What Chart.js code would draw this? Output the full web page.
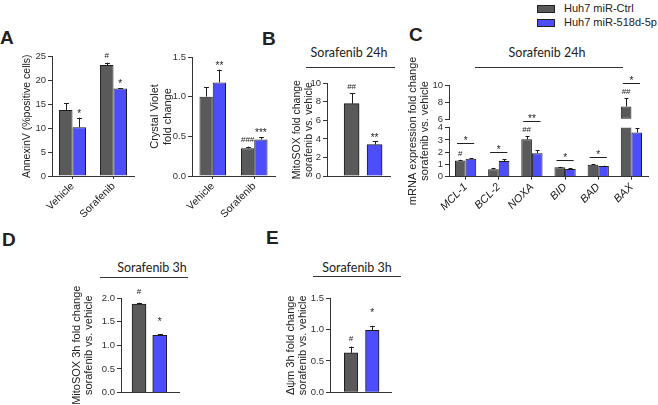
<!DOCTYPE html>
<html>
<head>
<meta charset="utf-8">
<script src="https://cdn.jsdelivr.net/npm/chart.js@4.4.0/dist/chart.umd.min.js"></script>
<style>
  body { margin: 0; background: #fff; }
  #page { position: relative; width: 658px; height: 405px; overflow: hidden;
          font-family: "Liberation Sans", Arial, sans-serif; color: #222; }
  #page canvas { position: absolute; left: 0; top: 0; }
  .letter { position: absolute; font-weight: bold; font-size: 19px; line-height: 19px; }
  .head { position: absolute; font-family: Lato, "Open Sans", sans-serif; font-size: 12.5px;
          line-height: 16px; text-align: center; width: 120px; }
  .rule { position: absolute; height: 0; border-top: 1px solid #333; }
  .key { position: absolute; left: 537px; font-size: 11px; line-height: 12px; white-space: nowrap; }
  .key i { display: inline-block; width: 16px; height: 6px; border: 1px solid #222;
           margin-right: 9px; vertical-align: -1px; }
</style>
</head>
<body>
<div id="page">
  <div class="key" style="top:2px"><i style="background:#5a5a5a"></i>Huh7 miR-Ctrl</div>
  <div class="key" style="top:16px"><i style="background:#4d4dfb"></i>Huh7 miR-518d-5p</div>

  <div class="letter" style="left:0px;top:28px">A</div>
  <div class="letter" style="left:262px;top:29px">B</div>
  <div class="letter" style="left:409px;top:25px">C</div>
  <div class="letter" style="left:2px;top:230px">D</div>
  <div class="letter" style="left:266px;top:228px">E</div>

  <div class="head" style="left:289px;top:45px">Sorafenib 24h</div>
  <div class="rule" style="left:306px;top:67px;width:89px"></div>
  <div class="head" style="left:487px;top:45px">Sorafenib 24h</div>
  <div class="rule" style="left:475px;top:67px;width:148px"></div>
  <div class="head" style="left:92px;top:260px">Sorafenib 3h</div>
  <div class="rule" style="left:100px;top:277px;width:88px"></div>
  <div class="head" style="left:297px;top:260px">Sorafenib 3h</div>
  <div class="rule" style="left:313px;top:276px;width:88px"></div>

  <canvas id="annexin" width="658" height="405"></canvas>
  <canvas id="violet" width="658" height="405"></canvas>
  <canvas id="mitosox24" width="658" height="405"></canvas>
  <canvas id="mrna" width="658" height="405"></canvas>
  <canvas id="mitosox3" width="658" height="405"></canvas>
  <canvas id="psi" width="658" height="405"></canvas>
</div>
<script>
// panel A
const groups = ['Vehicle', 'Sorafenib'];
const annexinCtrl = [13.8, 23.2];
const annexinCtrlErr = [1.4, 0.5];
const annexinMir = [10.2, 18.3];
const annexinMirErr = [2.0, 0.1];
const annexinCtrlSig = ['', '#'];
const annexinMirSig = ['*', '*'];

const violetCtrl = [1.0, 0.35];
const violetCtrlErr = [0.12, 0.02];
const violetMir = [1.18, 0.46];
const violetMirErr = [0.16, 0.03];
const violetCtrlSig = ['', '###'];
const violetMirSig = ['**', '***'];

// panels B, D, E: miR-Ctrl then miR-518d-5p
const lines = ['Huh7 miR-Ctrl', 'Huh7 miR-518d-5p'];
const mitoSox24 = [7.8, 3.4];
const mitoSox24Err = [1.15, 0.35];
const mitoSox24Sig = ['##', '**'];

const mitoSox3 = [1.87, 1.21];
const mitoSox3Err = [0.03, 0.03];
const mitoSox3Sig = ['#', '*'];

const deltaPsi = [0.63, 0.99];
const deltaPsiErr = [0.1, 0.07];
const deltaPsiSig = ['#', '*'];

// panel C
const genes = ['MCL-1', 'BCL-2', 'NOXA', 'BID', 'BAD', 'BAX'];
const mrnaCtrl = [1.33, 0.6, 3.05, 0.77, 0.98, 7.5];
const mrnaCtrlErr = [0.05, 0.12, 0.25, 0.03, 0.04, 0.95];
const mrnaMir = [1.47, 1.28, 1.92, 0.63, 0.88, 3.6];
const mrnaMirErr = [0.03, 0.15, 0.25, 0.04, 0.03, 0.35];
const mrnaCtrlSig = ['#', '', '##', '', '', '##'];
const mrnaPairSig = ['*', '*', '**', '*', '*', '*'];

const W = 658, H = 405;
const ctrlColor = '#5a5a5a';
const mirColor = '#4d4dfb';
const edge = '#1c1c1c';
const ink = '#333';

Chart.defaults.font.family = "'Liberation Sans', Arial, sans-serif";
Chart.defaults.color = ink;

// clip every dataset to its own y axis band and draw the upper whiskers
const errorBars = {
  id: 'errorBars',
  beforeDatasetDraw(chart, args) {
    const ys = chart.scales[args.meta.yAxisID];
    const a = chart.chartArea;
    chart.ctx.save();
    chart.ctx.beginPath();
    chart.ctx.rect(a.left, ys.top - 1, a.right - a.left, ys.bottom - ys.top + 1);
    chart.ctx.clip();
  },
  afterDatasetDraw(chart, args) {
    const ctx = chart.ctx;
    const ds = chart.data.datasets[args.index];
    const meta = args.meta;
    const ys = chart.scales[meta.yAxisID];
    if (ds.errors) {
      ctx.strokeStyle = edge;
      ctx.lineWidth = 1;
      meta.data.forEach((bar, i) => {
        const v = meta.controller.getParsed(i).y;
        const top = ys.getPixelForValue(v + ds.errors[i]);
        const x = Math.round(bar.x) + 0.5;
        const w = Math.max(2, bar.width * 0.18);
        ctx.beginPath();
        ctx.moveTo(x, bar.y);
        ctx.lineTo(x, top);
        ctx.moveTo(x - w, Math.round(top) + 0.5);
        ctx.lineTo(x + w, Math.round(top) + 0.5);
        ctx.stroke();
      });
    }
    ctx.restore();
  }
};

// # and * signs above bars, plus the bracket lines of panel C
const sigMarks = {
  id: 'sigMarks',
  afterDatasetsDraw(chart, args, o) {
    const ctx = chart.ctx;
    const axes = o.axes || ['y'];
    const pix = v => {
      for (const id of axes) {
        const s = chart.scales[id];
        if (v <= s.max || id === axes[axes.length - 1]) return s.getPixelForValue(v);
      }
    };
    const font = m => (m[0] === '#' ? "8px 'Liberation Sans'" : "10px 'Liberation Sans'");
    ctx.save();
    ctx.fillStyle = '#222';
    ctx.strokeStyle = '#222';
    ctx.lineWidth = 1;
    ctx.textAlign = 'center';
    ctx.textBaseline = 'alphabetic';
    const tops = [];
    chart.data.datasets.forEach((ds, d) => {
      if (!ds.errors || (ds.yAxisID && ds.yAxisID !== axes[0])) return;
      const meta = chart.getDatasetMeta(d);
      tops[d] = meta.data.map((bar, i) => ({ bar, top: pix(meta.controller.getParsed(i).y + ds.errors[i]) }));
      if (!ds.marks) return;
      tops[d].forEach((t, i) => {
        const m = ds.marks[i];
        if (!m) return;
        ctx.font = font(m);
        ctx.fillText(m, t.bar.x, t.top - (m[0] === '#' ? o.hashGap : o.starGap));
      });
    });
    if (o.pairs) {
      const hashes = chart.data.datasets[0].marks;
      o.pairs.forEach((m, i) => {
        const a = tops[0][i], b = tops[1][i];
        const y = Math.round(Math.min(a.top, b.top) - (hashes[i] ? o.hashLift : o.lift)) + 0.5;
        const x0 = a.bar.x - a.bar.width / 2 + 2;
        const x1 = b.bar.x + b.bar.width / 2 - 2;
        ctx.beginPath();
        ctx.moveTo(x0, y);
        ctx.lineTo(x1, y);
        ctx.stroke();
        ctx.font = font(m);
        ctx.fillText(m, (x0 + x1) / 2, y + 0.5);
      });
    }
    ctx.restore();
  }
};

function yAxis(o) {
  return {
    type: 'linear',
    position: 'left',
    min: o.min,
    max: o.max,
    stack: o.stack,
    stackWeight: o.weight,
    afterBuildTicks: s => {
      const t = [];
      for (let v = o.min; v <= o.max + 1e-9; v += o.step) t.push({ value: +v.toFixed(3) });
      s.ticks = t;
    },
    ticks: {
      autoSkip: false, padding: 2, font: { size: 9.5 }, color: ink,
      callback: v => (o.fixed ? v.toFixed(o.fixed) : v)
    },
    grid: { drawOnChartArea: false, tickLength: 4, color: ink },
    border: { color: ink },
    title: o.title
      ? { display: true, text: o.title, color: '#222', padding: 0,
          font: { size: o.titleSize || 11, lineHeight: o.lineHeight } }
      : { display: false },
    afterFit: s => { s.width = o.width; }
  };
}

function catAxis(height, italic) {
  return {
    type: 'category',
    offset: true,
    grid: { drawOnChartArea: false, offset: false, tickLength: 3, color: ink },
    border: { color: ink },
    ticks: {
      minRotation: 45, maxRotation: 45, padding: 1, color: '#222',
      font: { size: italic ? 11 : 10.5, style: italic ? 'italic' : 'normal' }
    },
    afterFit: s => { s.height = height; }
  };
}

function pairAxis(min, max) {
  return {
    type: 'linear', min, max, offset: false,
    ticks: { display: false },
    grid: { display: false, offset: false },
    border: { color: ink },
    afterFit: s => { s.height = 4; }
  };
}

function options(padding, scales, marks) {
  return {
    responsive: false,
    animation: false,
    devicePixelRatio: 1,
    layout: { padding },
    scales,
    plugins: { legend: { display: false }, tooltip: { enabled: false }, sigMarks: marks }
  };
}

function groupBars(values, errors, marks, color, pct) {
  return { data: values, errors, marks, backgroundColor: color, borderColor: edge,
           borderWidth: 1, categoryPercentage: pct, barPercentage: 1 };
}

function pairBars(values, errors, marks, thickness) {
  return { data: values.map((v, i) => ({ x: i + 1, y: v })), errors, marks,
           backgroundColor: [ctrlColor, mirColor], borderColor: edge, borderWidth: 1,
           barThickness: thickness };
}

// A: AnnexinV
new Chart(document.getElementById('annexin'), {
  type: 'bar',
  data: { labels: groups, datasets: [
    groupBars(annexinCtrl, annexinCtrlErr, annexinCtrlSig, ctrlColor, 0.66),
    groupBars(annexinMir, annexinMirErr, annexinMirSig, mirColor, 0.66)
  ] },
  options: options({ left: 21, top: 56.5, right: W - 134, bottom: 0 }, {
    x: catAxis(H - 176),
    y: yAxis({ min: 0, max: 25, step: 5, width: 31, title: 'AnnexinV (%positive cells)',
               titleSize: 10.5, lineHeight: '12.6px' })
  }, { hashGap: 5, starGap: 1 }),
  plugins: [errorBars, sigMarks]
});

// A: Crystal Violet
new Chart(document.getElementById('violet'), {
  type: 'bar',
  data: { labels: groups, datasets: [
    groupBars(violetCtrl, violetCtrlErr, violetCtrlSig, ctrlColor, 0.64),
    groupBars(violetMir, violetMirErr, violetMirSig, mirColor, 0.64)
  ] },
  options: options({ left: 148.5, top: 57, right: W - 275, bottom: 0 }, {
    x: catAxis(H - 176),
    y: yAxis({ min: 0, max: 1.5, step: 0.5, fixed: 1, width: 43.5,
               title: ['Crystal Violet', 'fold change'], lineHeight: '13px' })
  }, { hashGap: 5, starGap: 1 }),
  plugins: [errorBars, sigMarks]
});

// B: MitoSOX 24h
new Chart(document.getElementById('mitosox24'), {
  type: 'bar',
  data: { labels: lines, datasets: [pairBars(mitoSox24, mitoSox24Err, mitoSox24Sig, 15)] },
  options: options({ left: 291.5, top: 83.3, right: W - 390, bottom: H - 176 - 4 }, {
    x: pairAxis(-0.07, 2.67),
    y: yAxis({ min: 0, max: 10, step: 2, width: 35.5,
               title: ['MitoSOX fold change', 'sorafenib vs. vehicle'], titleSize: 10.5, lineHeight: '11.5px' })
  }, { hashGap: 4, starGap: 0 }),
  plugins: [errorBars, sigMarks]
});

// C: mRNA expression, broken y axis (0-4 below, 6-10 above)
new Chart(document.getElementById('mrna'), {
  type: 'bar',
  data: { labels: genes, datasets: [
    { ...groupBars(mrnaCtrl, mrnaCtrlErr, mrnaCtrlSig, ctrlColor, 0.64), yAxisID: 'yLow', stack: 'ctrl' },
    { ...groupBars(mrnaMir, mrnaMirErr, null, mirColor, 0.64), yAxisID: 'yLow', stack: 'mir' },
    { ...groupBars(mrnaCtrl, mrnaCtrlErr, null, ctrlColor, 0.64), yAxisID: 'yHigh', stack: 'ctrl',
      base: 6, borderSkipped: false },
    { ...groupBars(mrnaMir, mrnaMirErr, null, mirColor, 0.64), yAxisID: 'yHigh', stack: 'mir',
      base: 6, borderSkipped: false }
  ] },
  options: options({ left: 407, top: 85, right: W - 648, bottom: 0 }, {
    x: catAxis(H - 176.7, true),
    yTitle: {
      type: 'linear', position: 'left', weight: 10,
      ticks: { display: false }, grid: { display: false }, border: { display: false },
      title: { display: true, text: ['mRNA expression fold change', 'sorafenib vs. vehicle'],
               color: '#222', padding: 0, font: { size: 11, lineHeight: '12px' } },
      afterFit: s => { s.width = 20; }
    },
    yLow: yAxis({ min: 0, max: 4, step: 1, width: 22, stack: 'c', weight: 49 }),
    yGap: {
      type: 'linear', position: 'left', stack: 'c', stackWeight: 8.4,
      ticks: { display: false }, grid: { display: false }, border: { display: false },
      afterFit: s => { s.width = 22; }
    },
    yHigh: yAxis({ min: 6, max: 10, step: 2, width: 22, stack: 'c', weight: 34.3 })
  }, { axes: ['yLow', 'yHigh'], hashGap: 4, starGap: 1, pairs: mrnaPairSig, lift: 7, hashLift: 15 }),
  plugins: [errorBars, sigMarks]
});

// D: MitoSOX 3h
new Chart(document.getElementById('mitosox3'), {
  type: 'bar',
  data: { labels: lines, datasets: [pairBars(mitoSox3, mitoSox3Err, mitoSox3Sig, 14)] },
  options: options({ left: 71.7, top: 298, right: W - 179, bottom: H - 392.5 - 4 }, {
    x: pairAxis(0.13, 2.93),
    y: yAxis({ min: 0, max: 2, step: 0.5, fixed: 1, width: 49.3,
               title: ['MitoSOX 3h fold change', 'sorafenib vs. vehicle'], lineHeight: '11.5px' })
  }, { hashGap: 9, starGap: 9 }),
  plugins: [errorBars, sigMarks]
});

// E: delta psi m 3h
new Chart(document.getElementById('psi'), {
  type: 'bar',
  data: { labels: lines, datasets: [pairBars(deltaPsi, deltaPsiErr, deltaPsiSig, 13.5)] },
  options: options({ left: 285, top: 298.3, right: W - 391, bottom: H - 392.3 - 4 }, {
    x: pairAxis(0.01, 2.88),
    y: yAxis({ min: 0, max: 1.5, step: 0.5, fixed: 1, width: 45,
               title: ['\u0394\u03c8m 3h fold change', 'sorafenib vs. vehicle'], lineHeight: '12px' })
  }, { hashGap: 6, starGap: 10 }),
  plugins: [errorBars, sigMarks]
});
</script>
</body>
</html>
